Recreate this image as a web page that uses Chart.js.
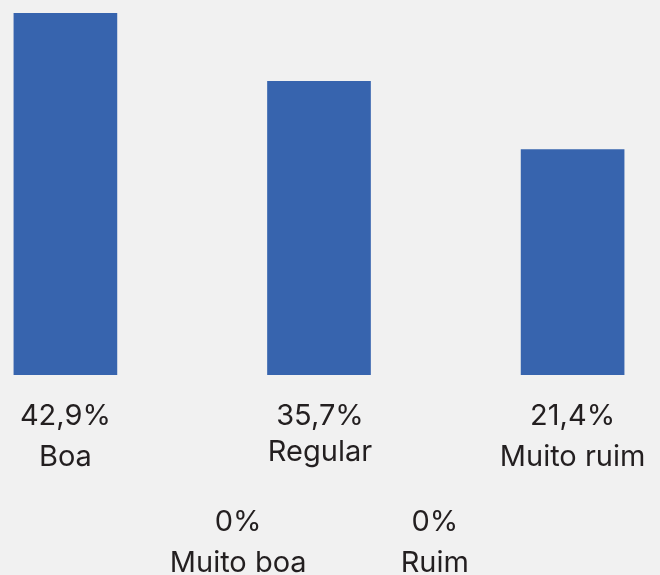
<!DOCTYPE html>
<html>
<head>
<meta charset="utf-8">
<script src="https://cdn.jsdelivr.net/npm/chart.js@4/dist/chart.umd.min.js"></script>
<style>
  html, body { margin: 0; padding: 0; background: #f1f1f1; }
  #wrap { width: 660px; height: 575px; }
</style>
</head>
<body>
<div id="wrap"><canvas id="barChart" width="660" height="575"></canvas></div>
<script>
const CATEGORIES = ['Boa', 'Muito boa', 'Regular', 'Ruim', 'Muito ruim'];
const PERCENT_LABELS = ['42,9%', '0%', '35,7%', '0%', '21,4%'];
// bar heights as drawn in the source picture (they are not proportional to the labels)
const BAR_LEVELS = [42.9, 0, 34.8, 0, 26.7];

const TEXT_COLOR = '#231f20';
const BAR_COLOR = '#3764ae';
const FONT = '29px Inter, "Noto Sans", sans-serif';

// writes value + category under each bar; zero values go on a lower row
const labelPlugin = {
  id: 'labels',
  afterDraw(chart, args, opts) {
    const { ctx, chartArea } = chart;
    const x = chart.scales.x;
    ctx.save();
    ctx.font = FONT;
    ctx.fillStyle = TEXT_COLOR;
    ctx.textAlign = 'center';
    ctx.textBaseline = 'alphabetic';
    CATEGORIES.forEach((cat, i) => {
      const cx = x.getPixelForValue(i) + opts.shiftX[i];
      const low = BAR_LEVELS[i] === 0;
      const top = chartArea.bottom + (low ? 156 : 50);
      ctx.fillText(PERCENT_LABELS[i], cx, top);
      ctx.fillText(cat, cx, top + 41 + opts.shiftY[i]);
    });
    ctx.restore();
  }
};

window.addEventListener('DOMContentLoaded', () => {
  const ctx = document.getElementById('barChart').getContext('2d');
  new Chart(ctx, {
    type: 'bar',
    data: {
      labels: CATEGORIES,
      datasets: [{
        data: BAR_LEVELS,
        backgroundColor: c => (c.raw ? BAR_COLOR : 'rgba(0,0,0,0)'),
        borderWidth: 0,
        barThickness: 103
      }]
    },
    options: {
      responsive: false,
      animation: false,
      layout: { padding: { left: 2, right: 24, top: 13, bottom: 200 } },
      plugins: {
        legend: { display: false },
        tooltip: { enabled: false },
        labels: { shiftX: [0, 46, 1, -11, 0], shiftY: [0, 0, -5, 0, 0] }
      },
      scales: {
        x: { display: false },
        y: { display: false, min: 0, max: 42.9 }
      }
    },
    plugins: [labelPlugin]
  });
});
</script>
</body>
</html>
